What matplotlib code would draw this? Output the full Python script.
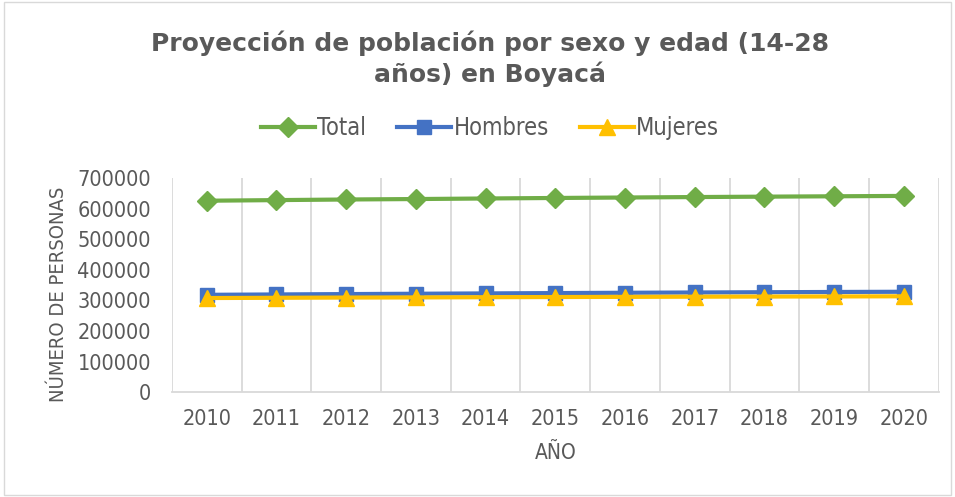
import matplotlib
matplotlib.use("Agg")
import matplotlib.pyplot as plt

years = ["2010", "2011", "2012", "2013", "2014", "2015", "2016", "2017", "2018", "2019", "2020"]
total = [625500, 627500, 629500, 631000, 632800, 634500, 636000, 637500, 638800, 640000, 641200]
hombres = [318000, 319200, 320400, 321500, 322600, 323700, 324700, 325600, 326500, 327300, 328000]
mujeres = [307500, 308300, 309100, 309500, 310200, 310800, 311300, 311900, 312300, 312700, 313200]

plt.rcParams['font.family'] = ["DejaVu Sans"]
plt.rcParams['font.stretch'] = "condensed"

gray = "#595959"
fig = plt.figure(figsize=(9.55, 4.97), dpi=100)
ax = fig.add_axes([0.180, 0.211, 0.803, 0.431])
x = list(range(len(years)))
ax.plot(x, total, color="#70AD47", lw=3, marker="D", ms=10, label="Total", zorder=3)
ax.plot(x, hombres, color="#4472C4", lw=3, marker="s", ms=10, label="Hombres", zorder=3)
ax.plot(x, mujeres, color="#FFC000", lw=3, marker="^", ms=11, label="Mujeres", zorder=4)

ax.set_xlim(-0.5, len(years) - 0.5)
ax.set_ylim(0, 700000)
ax.set_yticks(range(0, 700001, 100000))
ax.set_xticks(x)
ax.set_xticklabels(years)
for v in [i - 0.5 for i in range(len(years) + 1)]:
    ax.axvline(v, color="#D9D9D9", lw=1.3, zorder=1)
for s in ["top", "right", "left"]:
    ax.spines[s].set_visible(False)
ax.spines["bottom"].set_color("#D9D9D9")
ax.spines["bottom"].set_linewidth(1.3)
ax.tick_params(axis="both", length=0, colors=gray)
ax.tick_params(axis="x", pad=12, labelsize=15.5)
ax.tick_params(axis="y", pad=15, labelsize=15.5)
ax.set_xlabel("AÑO", color=gray, fontsize=15, labelpad=10)
ax.set_ylabel("NÚMERO DE PERSONAS", color=gray, fontsize=14.5)
ax.yaxis.set_label_coords(-0.136, 0.458)

fig.text(0.513, 0.882, "Proyección de población por sexo y edad (14-28\naños) en Boyacá",
         ha="center", va="center", fontsize=18, fontweight="bold", color=gray,
         linespacing=1.3, fontstretch="normal")
fig.legend(loc="center", bbox_to_anchor=(0.513, 0.742), ncol=3, frameon=False,
           fontsize=17, labelcolor=gray, handlelength=2.3, columnspacing=1.3, handletextpad=0.1)

border = plt.Rectangle((0.004, 0.004), 0.992, 0.992, transform=fig.transFigure,
                       fill=False, edgecolor="#D9D9D9", lw=1)
fig.add_artist(border)
fig.savefig("out.png", dpi=100)
